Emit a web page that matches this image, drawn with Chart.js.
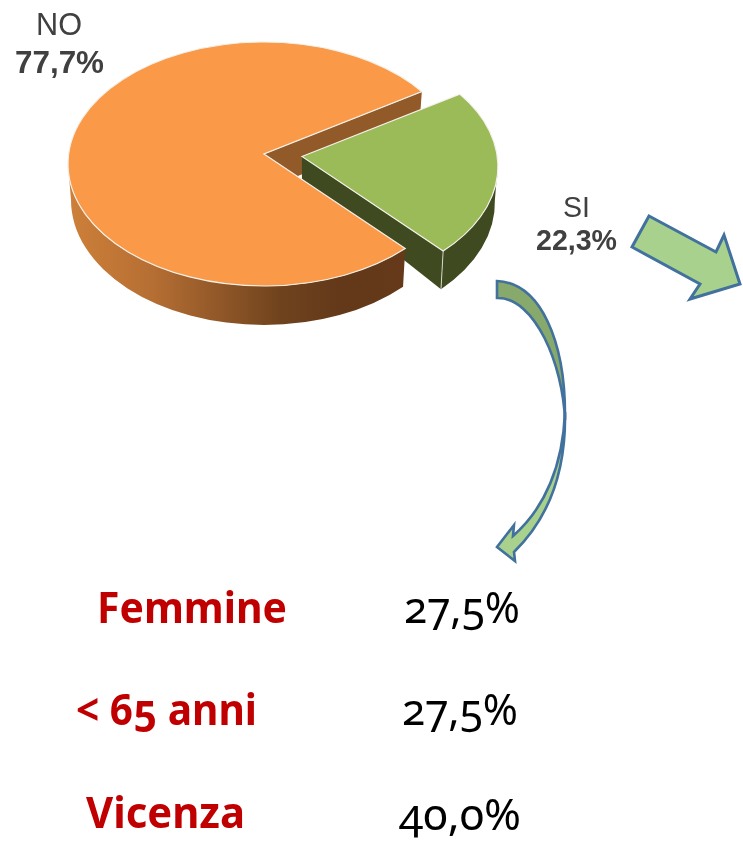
<!DOCTYPE html>
<html><head><meta charset="utf-8">
<script src="https://cdn.jsdelivr.net/npm/chart.js@4"></script>
<style>
html,body{margin:0;padding:0;background:#fff;overflow:hidden}
#wrap{position:relative;width:743px;height:843px}
canvas,svg{position:absolute;left:0;top:0}
.side{font-family:"Liberation Sans",Arial,sans-serif;fill:#404040}
.tbl{font-family:"Noto Sans",sans-serif;font-feature-settings:"onum" 1}
</style></head><body>
<div id="wrap"><canvas id="c" width="743" height="843"></canvas>
<svg id="s" width="743" height="843" xmlns="http://www.w3.org/2000/svg"></svg></div>
<script>
const categories = ["NO", "SI"];
const shares = [77.7, 22.3];
const shareLabels = ["77,7%", "22,3%"];
const rowLabels = ["Femmine", "< 65 anni", "Vicenza"];
const rowValues = ["27,5%", "27,5%", "40,0%"];
const topColors = ["#FA9A48", "#9BBB59"];
const explode = [0, 38];

const SQUASH = 122 / 196, Y_SHIFT = -51.5, APEX_UP = 10;
const DEPTH_CY = 36, DEPTH_RX = 3, DEPTH_RY = 125 / 122;

const pie3d = {
  id: 'pie3d',
  beforeDatasetDraw(chart) {
    const ctx = chart.ctx, arcs = chart.getDatasetMeta(0).data;
    const geo = el => {
      const mid = (el.startAngle + el.endAngle) / 2, off = el.options.offset || 0;
      const cx = el.x + Math.cos(mid) * off, dy = Math.sin(mid) * off;
      const cy = el.y + Y_SHIFT + dy, r = el.outerRadius;
      const ry = r * SQUASH, brx = r - DEPTH_RX, bry = ry * DEPTH_RY, bcy = cy + DEPTH_CY;
      return {cx, cy, r, ry, brx, bry, bcy, a: el.startAngle, b: el.endAngle, ax: cx, ay: cy - APEX_UP};
    };
    const pt = (g, t) => [g.cx + g.r * Math.cos(t), g.cy + g.ry * Math.sin(t)];
    const bpt = (g, t) => [g.cx + g.brx * Math.cos(t), g.bcy + g.bry * Math.sin(t)];
    const poly = (pts, fill) => {
      ctx.beginPath(); pts.forEach((p, i) => i ? ctx.lineTo(p[0], p[1]) : ctx.moveTo(p[0], p[1]));
      ctx.closePath(); ctx.fillStyle = fill; ctx.fill();
    };
    const face = (g, color) => {
      ctx.beginPath(); ctx.moveTo(g.ax, g.ay);
      ctx.ellipse(g.cx, g.cy, g.r, g.ry, 0, g.a, g.b); ctx.closePath();
      ctx.fillStyle = color; ctx.fill();
      ctx.strokeStyle = '#F4F1EA'; ctx.lineWidth = 1.2; ctx.lineJoin = 'miter'; ctx.stroke();
    };
    const rim = (g, from, to, fill) => {
      ctx.beginPath(); ctx.ellipse(g.cx, g.cy, g.r, g.ry, 0, from, to);
      ctx.ellipse(g.cx, g.bcy, g.brx, g.bry, 0, to, from, true); ctx.closePath();
      ctx.fillStyle = fill; ctx.fill();
    };
    const no = geo(arcs[0]), si = geo(arcs[1]);
    const TAU = Math.PI * 2;

    // inner wall of the NO slice, at its far cut
    const nb = pt(no, no.b), nbb = bpt(no, no.b);
    poly([[no.ax, no.ay], nb, nbb, [no.ax, no.ay + DEPTH_CY]], '#915A28');

    // SI walls and face
    const sb = pt(si, si.b), sbb = bpt(si, si.b);
    rim(si, TAU - 0.02, si.b, '#3F4A21');
    poly([[si.ax, si.ay], sb, sbb, [si.ax, si.ay + 23]], '#3F4A21');
    ctx.beginPath(); ctx.moveTo(sb[0], sb[1]); ctx.lineTo(sbb[0], sbb[1]);
    ctx.strokeStyle = 'rgba(240,240,230,.8)'; ctx.lineWidth = 1; ctx.stroke();
    face(si, topColors[1]);

    // NO outer wall and face
    const grad = ctx.createLinearGradient(no.cx - no.r, 0, no.cx + 145, 0);
    grad.addColorStop(0, '#CE8039'); grad.addColorStop(.25, '#B56E33');
    grad.addColorStop(.62, '#70431E'); grad.addColorStop(.8, '#63391A'); grad.addColorStop(1, '#65391A');
    rim(no, no.a, Math.PI, grad);
    face(no, topColors[0]);
    return false;
  }
};

new Chart(document.getElementById('c'), {
  type: 'pie',
  data: {
    labels: categories,
    datasets: [{ data: shares, backgroundColor: topColors, offset: explode, borderWidth: 1, borderColor: '#fff' }]
  },
  options: {
    responsive: false, animation: false, rotation: 133.9,
    layout: { padding: { left: 48.5, right: 263.5, top: 0, bottom: 412 } },
    plugins: { legend: { display: false }, tooltip: { enabled: false } }
  },
  plugins: [pie3d]
});

// annotations
const NS = 'http://www.w3.org/2000/svg', svg = document.getElementById('s');
function el(tag, attrs, txt) {
  const e = document.createElementNS(NS, tag);
  for (const k in attrs) e.setAttribute(k, attrs[k]);
  if (txt != null) e.textContent = txt;
  svg.appendChild(e); return e;
}
function label(t, x, y, w, size, cls, weight, fill) {
  const a = {x, y, 'font-size': size, 'font-weight': weight, class: cls, textLength: w, lengthAdjust: 'spacingAndGlyphs'};
  if (fill) a.fill = fill;
  el('text', a, t);
}
label(categories[0], 36, 35, 46, 31, 'side', 400);
label(shareLabels[0], 15, 73, 89, 31, 'side', 700);
label(categories[1], 563, 217, 27, 29, 'side', 400);
label(shareLabels[1], 536, 250, 81, 29, 'side', 700);

const rowX = [97, 76, 86], rowW = [190, 181, 159], rowY = [623, 725, 828];
const valX = [404, 402, 399], valW = [116, 116, 122], valY = [623, 725, 830];
rowLabels.forEach((t, i) => {
  label(t, rowX[i], rowY[i], rowW[i], 43, 'tbl', 700, '#C00000');
  label(rowValues[i], valX[i], valY[i], valW[i], 44, 'tbl', 400, '#000');
});

const STROKE = '#41719C';
el('path', {d: 'M649 216 L716 252 L724 235 L740 284 L690 299 L700 284 L632 247 Z', fill: '#A9D18E', stroke: STROKE, 'stroke-width': 3, 'stroke-linejoin': 'miter'});
el('path', {d: 'M565 412 C566 465 552 515 514 552 L515 561 L497 547 L514 525 L513 536 C545 508 563 465 565 412 Z', fill: '#A9D18E', stroke: STROKE, 'stroke-width': 2.6});
el('path', {d: 'M497 281 C540 283 566 340 565 420 C563 365 535 297 497 298 Z', fill: '#87A96B', stroke: STROKE, 'stroke-width': 2.6});
</script></body></html>
